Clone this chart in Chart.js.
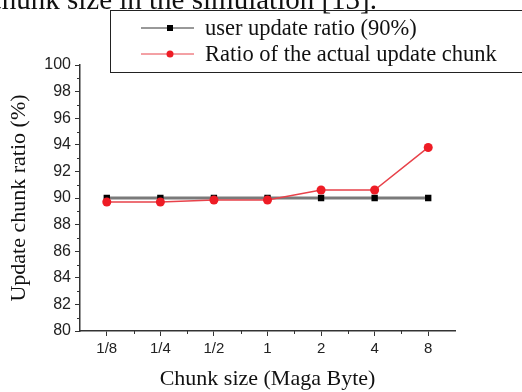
<!DOCTYPE html>
<html lang="en">
<head>
<meta charset="UTF-8">
<title>Update chunk ratio</title>
<style>
  body { margin: 0; background: #fff; width: 522px; height: 392px; overflow: hidden; position: relative; }
  #wrap { position: absolute; left: 0; top: 0; width: 522px; height: 392px; }
</style>
</head>
<body>
<div id="wrap"><canvas id="chart"></canvas></div>
<script src="https://cdn.jsdelivr.net/npm/chart.js"></script>
<script>
const caption = 'chunk size in the simulation [13].';
const chunkSizes = ['1/8', '1/4', '1/2', '1', '2', '4', '8'];
const userRatio = [90, 90, 90, 90, 90, 90, 90];
const actualRatio = [89.7, 89.7, 89.85, 89.85, 90.6, 90.6, 93.8];
const seriesNames = ['user update ratio (90%)', 'Ratio of the actual update chunk'];

// caption, minor ticks on both axes, legend box
const extras = {
  id: 'extras',
  afterDraw(chart) {
    const ctx = chart.ctx;
    const x = chart.scales.x, y = chart.scales.y;
    ctx.save();
    // caption cut off at the top
    ctx.font = '29px "Liberation Serif", serif';
    ctx.fillStyle = '#111';
    ctx.textAlign = 'right';
    ctx.textBaseline = 'alphabetic';
    ctx.fillText(caption, 377, 9);
    ctx.textAlign = 'left';

    ctx.strokeStyle = '#333';
    ctx.lineWidth = 1;
    // y minor ticks
    for (let v = 81; v < 100; v += 2) {
      const py = Math.round(y.getPixelForValue(v)) + 0.5;
      ctx.beginPath(); ctx.moveTo(x.left - 3, py); ctx.lineTo(x.left, py); ctx.stroke();
    }
    // x minor ticks between categories
    for (let i = 0; i < chunkSizes.length - 1; i++) {
      const px = Math.round((x.getPixelForValue(i) + x.getPixelForValue(i + 1)) / 2) + 0.5;
      ctx.beginPath(); ctx.moveTo(px, y.bottom); ctx.lineTo(px, y.bottom + 3); ctx.stroke();
    }
    // legend
    ctx.strokeStyle = '#222';
    ctx.lineWidth = 1;
    ctx.strokeRect(110.5, 10.5, 420, 62);
    ctx.font = '22.5px "Liberation Serif", serif';
    ctx.textBaseline = 'middle';
    chart.data.datasets.forEach((ds, i) => {
      const ly = 28 + i * 26;
      ctx.strokeStyle = i === 0 ? '#333' : ds.borderColor;
      ctx.lineWidth = 1;
      ctx.beginPath(); ctx.moveTo(141, ly); ctx.lineTo(194, ly); ctx.stroke();
      ctx.fillStyle = ds.pointBackgroundColor;
      if (i === 0) {
        ctx.fillRect(167, ly - 3, 6, 6);
      } else {
        ctx.beginPath(); ctx.arc(170, ly, 3.5, 0, Math.PI * 2); ctx.fill();
      }
      ctx.fillStyle = '#111';
      ctx.fillText(ds.label, 205, ly + 1);
    });
    ctx.restore();
  }
};

new Chart(document.getElementById('chart'), {
  type: 'line',
  data: {
    labels: chunkSizes,
    datasets: [
      {
        label: seriesNames[0],
        data: userRatio,
        order: 1,
        borderColor: '#7a7a7a',
        borderWidth: 3,
        pointStyle: 'rect',
        pointRadius: 4.5,
        pointBackgroundColor: '#000',
        pointBorderColor: '#000',
        pointBorderWidth: 0
      },
      {
        label: seriesNames[1],
        data: actualRatio,
        order: 0,
        borderColor: '#e8424a',
        borderWidth: 1.5,
        pointStyle: 'circle',
        pointRadius: 4.5,
        pointBackgroundColor: '#ee1c25',
        pointBorderColor: '#ee1c25',
        pointBorderWidth: 0
      }
    ]
  },
  options: {
    responsive: true,
    maintainAspectRatio: false,
    animation: false,
    layout: { padding: { top: 65, right: 67, left: 0, bottom: 0 } },
    plugins: { legend: { display: false }, tooltip: { enabled: false } },
    scales: {
      x: {
        offset: true,
        afterFit(s) { s.height = 61; },
        grid: { display: true, drawOnChartArea: false, tickLength: 5, color: '#333', offset: false },
        border: { color: '#333', width: 1.5 },
        ticks: { color: '#222', font: { family: 'Liberation Sans', size: 15 }, padding: 4, maxRotation: 0 },
        title: { display: true, text: 'Chunk size (Maga Byte)', color: '#111', font: { family: 'Liberation Serif', size: 22 }, padding: { top: 0, bottom: 0 } }
      },
      y: {
        min: 80,
        max: 100,
        afterFit(s) { s.width = 80; },
        grid: { display: true, drawOnChartArea: false, tickLength: 5, color: '#333' },
        border: { color: '#333', width: 1.5 },
        ticks: { stepSize: 2, color: '#222', font: { family: 'Liberation Sans', size: 16 }, padding: 4 },
        title: { display: true, text: 'Update chunk ratio (%)', color: '#111', font: { family: 'Liberation Serif', size: 22 }, padding: { top: 6, bottom: 0 } }
      }
    }
  },
  plugins: [extras]
});
</script>
</body>
</html>
